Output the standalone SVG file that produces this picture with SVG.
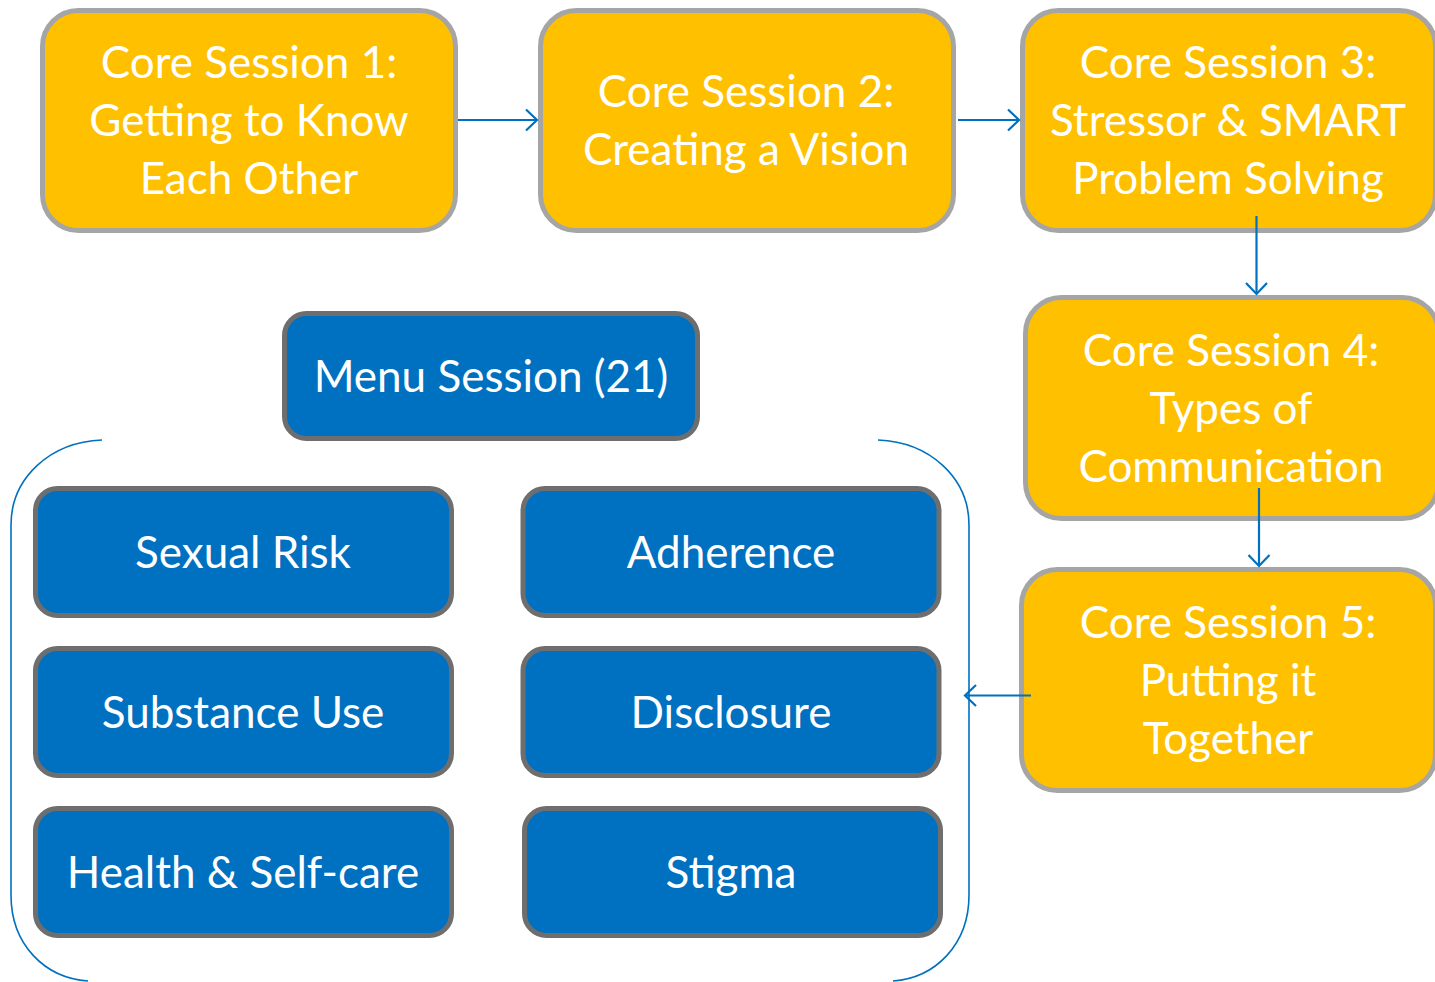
<svg xmlns="http://www.w3.org/2000/svg" width="1435" height="982" viewBox="0 0 1435 982">
<style>
.core rect{fill:#FFC000;stroke:#A5A5A5;stroke-width:5}
.menu rect{fill:#0070C0;stroke:#6E6E6E;stroke-width:5}
text{font-family:Lato,"Open Sans",sans-serif;font-size:44px;fill:#FFFFFF;text-anchor:middle}
.conn{stroke:#0070C0;stroke-width:2.2;fill:none}
.brk{stroke:#0070C0;stroke-width:1.6;fill:none}
</style>
<defs>
<marker id="ah" markerUnits="userSpaceOnUse" markerWidth="20" markerHeight="26" refX="13" refY="13" orient="auto">
<path d="M2,2.5 L13,13 L2,23.5" fill="none" stroke="#0070C0" stroke-width="2.2"/>
</marker>
</defs>
<g id="bracket-left"><path class="brk" d="M102,440 C50,442 11,478 11,525 L11,895 C11,945 45,978 88,981"/></g>
<g id="bracket-right"><path class="brk" d="M878,440 C930,442 969,478 969,525 L969,895 C969,945 935,978 893,981"/></g>
<g id="core1" class="core"><rect x="42.5" y="10.5" width="413" height="220" rx="36"/>
<text x="249" y="78">Core Session 1:</text><text x="249" y="136">Getting to Know</text><text x="249" y="194">Each Other</text></g>
<g id="core2" class="core"><rect x="540.5" y="10.5" width="413" height="220" rx="36"/>
<text x="746" y="107">Core Session 2:</text><text x="746" y="165">Creating a Vision</text></g>
<g id="core3" class="core"><rect x="1022.5" y="10.5" width="413" height="220" rx="36"/>
<text x="1228" y="78">Core Session 3:</text><text x="1228" y="136">Stressor &amp; SMART</text><text x="1228" y="194">Problem Solving</text></g>
<g id="core4" class="core"><rect x="1025.5" y="297.5" width="413" height="221" rx="36"/>
<text x="1231" y="366">Core Session 4:</text><text x="1231" y="424">Types of</text><text x="1231" y="482">Communication</text></g>
<g id="core5" class="core"><rect x="1021.5" y="569.5" width="414" height="221" rx="36"/>
<text x="1228" y="638">Core Session 5:</text><text x="1228" y="696">Putting it</text><text x="1228" y="754">Together</text></g>
<g id="menu-session" class="menu"><rect x="284.5" y="313.5" width="413" height="125" rx="22"/>
<text x="491" y="392">Menu Session (21)</text></g>
<g id="sexual-risk" class="menu"><rect x="35.5" y="488.5" width="416" height="127" rx="22"/>
<text x="243" y="568">Sexual Risk</text></g>
<g id="substance-use" class="menu"><rect x="35.5" y="648.5" width="416" height="127" rx="22"/>
<text x="243" y="728">Substance Use</text></g>
<g id="health" class="menu"><rect x="35.5" y="808.5" width="416" height="127" rx="22"/>
<text x="243" y="888">Health &amp; Self-care</text></g>
<g id="adherence" class="menu"><rect x="523" y="488.5" width="416" height="127" rx="22"/>
<text x="731" y="568">Adherence</text></g>
<g id="disclosure" class="menu"><rect x="523" y="648.5" width="416" height="127" rx="22"/>
<text x="731" y="728">Disclosure</text></g>
<g id="stigma" class="menu"><rect x="524.5" y="808.5" width="416" height="127" rx="22"/>
<text x="731" y="888">Stigma</text></g>
<g id="connectors">
<line class="conn" x1="458" y1="120" x2="537" y2="120" marker-end="url(#ah)"/>
<line class="conn" x1="958" y1="120" x2="1019" y2="120" marker-end="url(#ah)"/>
<line class="conn" x1="1256.5" y1="216" x2="1256.5" y2="294" marker-end="url(#ah)"/>
<line class="conn" x1="1259" y1="488" x2="1259" y2="566" marker-end="url(#ah)"/>
<line class="conn" x1="1031" y1="695.5" x2="965" y2="695.5" marker-end="url(#ah)"/>
</g>
</svg>
